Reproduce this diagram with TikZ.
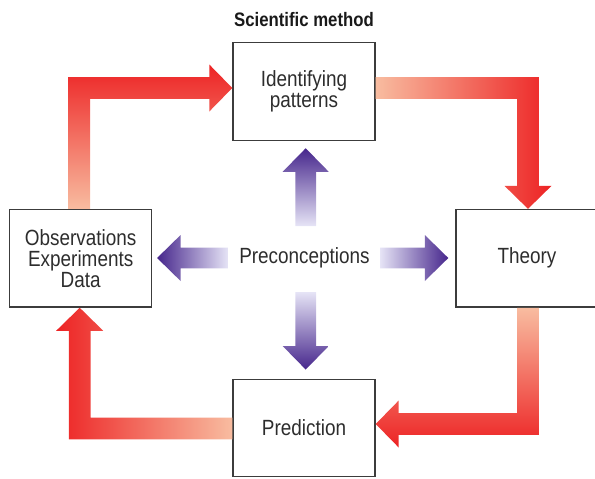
\documentclass[tikz,border=0pt]{standalone}
\usepackage{fontspec}
\setmainfont{Liberation Sans}[FakeStretch=0.86]
\usetikzlibrary{calc}
\definecolor{redD}{RGB}{237,35,36}
\definecolor{redL}{RGB}{248,188,160}
\definecolor{purD}{RGB}{70,38,140}
\definecolor{purL}{RGB}{230,228,246}
\definecolor{boxline}{RGB}{60,60,60}
\definecolor{txt}{RGB}{45,45,45}
\def\rsw{10.8pt}\def\rhw{23.5pt}\def\rhl{23pt}
\def\psw{10.3pt}\def\phw{23pt}\def\phl{23.5pt}
\tikzset{
  stagebox/.style={draw=boxline, line width=1.4pt, minimum width=142pt, minimum height=97.5pt,
    inner sep=0pt, align=center, font=\fontsize{22}{21}\selectfont, text=txt},
  redarrow/.style={draw=none},
  purarrow/.style={draw=none}
}
\begin{document}
\begin{tikzpicture}[x=1pt,y=-1pt]
\useasboundingbox (0,0) rectangle (595,479);
\node[font=\bfseries\fontsize{19.5}{20}\selectfont, text=black!90, anchor=base] (title) at (304,27) {Scientific method};
\node[stagebox] (idp) at (304,91.5) {Identifying\\patterns};
\node[stagebox] (obs) at (80.7,258.3) {Observations\\Experiments\\Data};
\node[stagebox] (theory) at (527,258.3) {Theory};
\node[stagebox] (pred) at (304,428) {Prediction};
\node[inner sep=0pt, font=\fontsize{22}{21}\selectfont, text=txt] (pre) at (304.5,258) {Preconceptions};

% red arrows
\shade[redarrow, top color=redD, bottom color=redL]
  let \p1=($(obs.north)+(-1.3,0)$), \p2=($(idp.west)+(0,-3.5)$) in
  (\x1-\rsw,\y1) -- (\x1-\rsw,\y2+\rsw) -- (\x2-\rhl,\y2+\rsw) -- (\x2-\rhl,\y2+\rhw) -- (\x2,\y2)
  -- (\x2-\rhl,\y2-\rhw) -- (\x2-\rhl,\y2-\rsw) -- (\x1+\rsw,\y2-\rsw) -- (\x1+\rsw,\y1) -- cycle;
\shade[redarrow, left color=redL, right color=redD]
  let \p1=($(idp.east)+(0,-3.5)$), \p2=($(theory.north)+(1,0)$) in
  (\x1,\y1+\rsw) -- (\x2+\rsw,\y1+\rsw) -- (\x2+\rsw,\y2+\rhl) -- (\x2+\rhw,\y2+\rhl) -- (\x2,\y2)
  -- (\x2-\rhw,\y2+\rhl) -- (\x2-\rsw,\y2+\rhl) -- (\x2-\rsw,\y1-\rsw) -- (\x1,\y1-\rsw) -- cycle;
\shade[redarrow, top color=redL, bottom color=redD]
  let \p1=($(theory.south)+(1,0)$), \p2=($(pred.east)+(0,-4)$) in
  (\x1-\rsw,\y1) -- (\x1-\rsw,\y2+\rsw) -- (\x2+\rhl,\y2+\rsw) -- (\x2+\rhl,\y2+\rhw) -- (\x2,\y2)
  -- (\x2+\rhl,\y2-\rhw) -- (\x2+\rhl,\y2-\rsw) -- (\x1+\rsw,\y2-\rsw) -- (\x1+\rsw,\y1) -- cycle;
\shade[redarrow, left color=redD, right color=redL]
  let \p1=($(pred.west)+(0,0.5)$), \p2=($(obs.south)+(-1,0)$) in
  (\x1,\y1+\rsw) -- (\x2+\rsw,\y1+\rsw) -- (\x2+\rsw,\y2-\rhl) -- (\x2+\rhw,\y2-\rhl) -- (\x2,\y2)
  -- (\x2-\rhw,\y2-\rhl) -- (\x2-\rsw,\y2-\rhl) -- (\x2-\rsw,\y1-\rsw) -- (\x1,\y1-\rsw) -- cycle;

% purple arrows
\shade[purarrow, top color=purD, bottom color=purL]
  let \p1=($(pre)+(1.2,-32)$), \p2=($(idp.south)+(0,7.3)$) in
  (\x1-\psw,\y1) -- (\x1-\psw,\y2-\phl) -- (\x1-\phw,\y2-\phl) -- (\x1,\y2)
  -- (\x1+\phw,\y2-\phl) -- (\x1+\psw,\y2-\phl) -- (\x1+\psw,\y1) -- cycle;
\shade[purarrow, top color=purL, bottom color=purD]
  let \p1=($(pre)+(1.2,34)$), \p2=($(pred.north)+(0,-9)$) in
  (\x1-\psw,\y1) -- (\x1-\psw,\y2+\phl) -- (\x1-\phw,\y2+\phl) -- (\x1,\y2)
  -- (\x1+\phw,\y2+\phl) -- (\x1+\psw,\y2+\phl) -- (\x1+\psw,\y1) -- cycle;
\shade[purarrow, left color=purD, right color=purL]
  let \p1=($(pre)+(-76.5,0)$), \p2=($(obs.east)+(4.7,0)$) in
  (\x1,\y1+\psw) -- (\x2+\phl,\y1+\psw) -- (\x2+\phl,\y1+\phw) -- (\x2,\y1)
  -- (\x2+\phl,\y1-\phw) -- (\x2+\phl,\y1-\psw) -- (\x1,\y1-\psw) -- cycle;
\shade[purarrow, left color=purL, right color=purD]
  let \p1=($(pre)+(75.5,0)$), \p2=($(theory.west)+(-7,0)$) in
  (\x1,\y1+\psw) -- (\x2-\phl,\y1+\psw) -- (\x2-\phl,\y1+\phw) -- (\x2,\y1)
  -- (\x2-\phl,\y1-\phw) -- (\x2-\phl,\y1-\psw) -- (\x1,\y1-\psw) -- cycle;
\end{tikzpicture}
\end{document}
